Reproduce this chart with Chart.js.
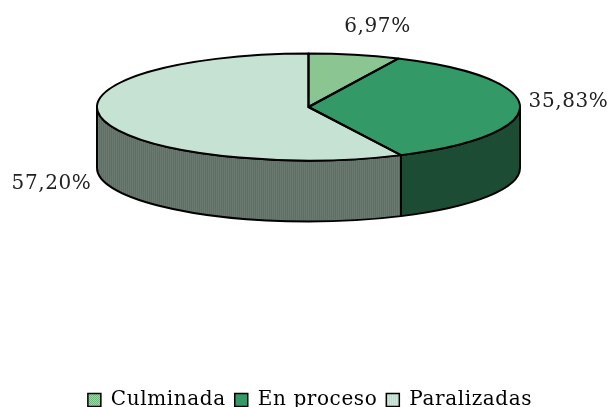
<!DOCTYPE html>
<html><head><meta charset="utf-8">
<style>html,body{margin:0;padding:0;background:#fff}#c{display:block}</style>
<script src="https://cdn.jsdelivr.net/npm/chart.js@4"></script></head>
<body><canvas id="c" width="610" height="407"></canvas>
<script>
const categories = ['Culminada', 'En proceso', 'Paralizadas'];
const values = [6.97, 35.83, 57.20];
const valueLabels = ['6,97%', '35,83%', '57,20%'];
const labelPositions = [[377.5, 26.5], [568.5, 101.5], [51.5, 183.5]];
const topColors = ['#8cc896', '#339966', '#c6e2d3'];
const wallColors = ['#4a6b50', '#1c4c33', '#66766c'];

const CX = 308.5, CY = 107, RX = 211.5, RY = 53.5, DEPTH = 61;
const K = RY / RX;
const FONT = '"DejaVu Serif"';

function stripes(base, line) {
  const p = document.createElement('canvas'); p.width = 2; p.height = 2;
  const g = p.getContext('2d');
  g.fillStyle = base; g.fillRect(0, 0, 2, 2);
  g.fillStyle = line; g.fillRect(1, 0, 1, 2);
  return g.canvas;
}
function dither(base, dot) {
  const p = document.createElement('canvas'); p.width = 2; p.height = 2;
  const g = p.getContext('2d');
  g.fillStyle = base; g.fillRect(0, 0, 2, 2);
  g.fillStyle = dot; g.fillRect(0, 0, 1, 1); g.fillRect(1, 1, 1, 1);
  return g.canvas;
}
const ctx0 = document.getElementById('c').getContext('2d');
const dPat = ctx0.createPattern(dither('#a5d6a9', '#6fb57c'), 'repeat');
const sPat = ctx0.createPattern(stripes('#cde8da', '#bedccc'), 'repeat');
const wPat = ctx0.createPattern(stripes('#6a7a70', '#5f6f65'), 'repeat');
dPat.setTransform(new DOMMatrix().scale(1, 1 / K));
sPat.setTransform(new DOMMatrix().scale(1, 1 / K));
const fills = [dPat, topColors[1], sPat];
const legendFills = [ctx0.createPattern(dither('#a5d6a9', '#6fb57c'), 'repeat'), topColors[1], ctx0.createPattern(stripes('#cde8da', '#bedccc'), 'repeat')];
const walls = [wallColors[0], wallColors[1], wPat];

const pie3d = {
  id: 'pie3d',
  beforeDraw(chart) { chart.ctx.letterSpacing = '0.6px'; },
  beforeDatasetsDraw(chart) {
    const ctx = chart.ctx, arcs = chart.getDatasetMeta(0).data;
    ctx.save();
    ctx.lineWidth = 2; ctx.strokeStyle = '#000'; ctx.lineJoin = 'round';
    arcs.forEach((a, i) => {
      const s = Math.max(a.startAngle, 0), e = Math.min(a.endAngle, Math.PI);
      if (e <= s) return;
      ctx.beginPath();
      ctx.ellipse(CX, CY, RX, RY, 0, s, e);
      ctx.ellipse(CX, CY + DEPTH, RX, RY, 0, e, s, true);
      ctx.closePath();
      ctx.fillStyle = walls[i];
      ctx.fill(); ctx.stroke();
    });
    ctx.restore();
    const p = arcs[0];
    ctx.save();
    ctx.translate(CX, CY); ctx.scale(1, K); ctx.translate(-p.x, -p.y);
  },
  afterDatasetsDraw(chart) {
    const ctx = chart.ctx, arcs = chart.getDatasetMeta(0).data;
    ctx.restore();
    ctx.save();
    ctx.lineWidth = 2; ctx.strokeStyle = '#000'; ctx.lineJoin = 'round';
    arcs.forEach(a => {
      ctx.beginPath();
      ctx.moveTo(CX, CY);
      ctx.ellipse(CX, CY, RX, RY, 0, a.startAngle, a.endAngle);
      ctx.closePath();
      ctx.stroke();
    });
    ctx.font = '20px ' + FONT;
    ctx.fillStyle = '#222';
    ctx.textAlign = 'center'; ctx.textBaseline = 'middle';
    valueLabels.forEach((t, i) => ctx.fillText(t, labelPositions[i][0], labelPositions[i][1]));
    ctx.restore();
  }
};

new Chart(ctx0, {
  type: 'pie',
  data: { labels: categories, datasets: [{ data: values, backgroundColor: fills, borderWidth: 0, hoverOffset: 0 }] },
  options: {
    responsive: false, animation: false, rotation: 0, radius: RX,
    layout: { padding: { bottom: -13, right: 8 } },
    plugins: {
      tooltip: { enabled: false },
      legend: {
        position: 'bottom',
        labels: {
          font: { family: FONT, size: 20 }, color: '#111',
          boxWidth: 13, boxHeight: 13, padding: 9,
          generateLabels: () => categories.map((c, i) => ({
            text: c, fillStyle: legendFills[i], strokeStyle: '#000', lineWidth: 1.5, index: i, hidden: false
          }))
        }
      }
    }
  },
  plugins: [pie3d]
});
</script></body></html>
